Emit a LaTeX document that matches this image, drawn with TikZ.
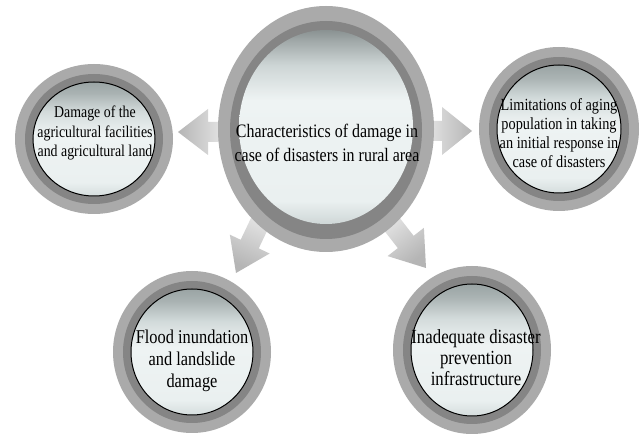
\documentclass[tikz,border=0pt]{standalone}
\usepackage{fontspec}
\setmainfont{Liberation Serif}
\newfontfamily\condserif[FakeStretch=0.84]{Liberation Serif}
\usetikzlibrary{shapes.geometric}
\definecolor{ringlight}{HTML}{AAAAAA}
\definecolor{ringdark}{HTML}{858585}
\definecolor{arrowdark}{HTML}{B5B5B5}
\definecolor{arrowmid}{HTML}{D2D2D2}
\definecolor{arrowlight}{HTML}{F6F6F6}
\definecolor{dA}{HTML}{D5DDDD}
\definecolor{dB}{HTML}{EAF0F0}
\definecolor{dC}{HTML}{EEF3F3}
\definecolor{dD}{HTML}{D3DBDB}
\definecolor{dE}{HTML}{AAB3B3}
\definecolor{dF}{HTML}{9AA4A4}
\definecolor{cA}{HTML}{CFD7D7}
\definecolor{cD}{HTML}{CDD5D5}
\definecolor{cE}{HTML}{A2AAAA}
\definecolor{cF}{HTML}{8A9292}
\pgfdeclareverticalshading{glassdisc}{100bp}{color(0bp)=(dA); color(25bp)=(dA); color(31bp)=(dB); color(52bp)=(dC); color(62bp)=(dD); color(70bp)=(dE); color(75bp)=(dF); color(100bp)=(dF)}
\pgfdeclareverticalshading{glasscentre}{100bp}{color(0bp)=(cA); color(25bp)=(cA); color(31bp)=(dB); color(57bp)=(dC); color(66bp)=(cD); color(72bp)=(cE); color(75bp)=(cF); color(100bp)=(cF)}
\tikzset{
  ringouter/.style 2 args={ellipse, inner sep=0pt, outer sep=0pt, fill=ringlight, minimum width=#1, minimum height=#2},
  ringinner/.style 2 args={ellipse, inner sep=0pt, outer sep=0pt, fill=ringdark, minimum width=#1, minimum height=#2},
  glassface/.style 2 args={ellipse, inner sep=0pt, outer sep=0pt, shade, shading=glassdisc, draw=black, line width=1pt, minimum width=#1, minimum height=#2},
  centreface/.style 2 args={ellipse, inner sep=0pt, outer sep=0pt, shade, shading=glasscentre, minimum width=#1, minimum height=#2},
  balltext/.style={align=center, inner sep=0pt, text=black},
  blockarrow/.style={shade, top color=arrowdark, middle color=arrowmid, bottom color=arrowlight, draw=none},
}
\begin{document}
\begin{tikzpicture}[x=1pt, y=-1pt]
\useasboundingbox (0,0) rectangle (643,435);
\fill[white] (0,0) rectangle (643,435);

% block arrows (behind the circles)
\path[blockarrow, shading angle=90] (178,132) -- (208,109) -- (208,122) -- (240,122) -- (240,142) -- (208,142) -- (208,155) -- cycle;
\path[blockarrow, shading angle=-90] (472,131) -- (442,107) -- (442,121) -- (410,121) -- (410,141) -- (442,141) -- (442,155) -- cycle;
\path[blockarrow, shading angle=154.6] (236,273) -- (229.84,234.66) -- (240.68,239.80) -- (262.12,194.62) -- (280.20,203.20) -- (258.76,248.38) -- (269.60,253.52) -- cycle;
\path[blockarrow, shading angle=-142.1] (426,268) -- (387.59,256.08) -- (397.85,248.10) -- (367.76,209.44) -- (383.54,197.16) -- (413.63,235.82) -- (423.89,227.84) -- cycle;

% centre
\node[ringouter={216pt}{246pt}] (C) at (326,129) {};
\node[ringinner={192pt}{218pt}] (Cr) at (326,130) {};
\node[centreface={174pt}{194pt}] (Cf) at (326,127) {};
\node[balltext, font=\condserif\fontsize{19}{24}\selectfont] (Ct) at (327,143) {Characteristics of damage in\\case of disasters in rural area};

% left
\node[ringouter={158pt}{150pt}] (L) at (94,139) {};
\node[ringinner={138pt}{130pt}] (Lr) at (94,139) {};
\node[glassface={122pt}{114pt}] (Lf) at (94,139) {};
\node[balltext, font=\condserif\fontsize{16.5}{19.5}\selectfont] (Lt) at (95,133) {Damage of the\\agricultural facilities\\and agricultural land};

% right
\node[ringouter={160pt}{164pt}] (R) at (559,129) {};
\node[ringinner={140pt}{144pt}] (Rr) at (559,129) {};
\node[glassface={124pt}{128pt}] (Rf) at (559,129) {};
\node[balltext, font=\condserif\fontsize{17}{19}\selectfont] (Rt) at (559,133) {Limitations of aging\\population in taking\\an initial response in\\case of disasters};

% bottom left
\node[ringouter={158pt}{162pt}] (BL) at (192,352) {};
\node[ringinner={138pt}{142pt}] (BLr) at (192,352) {};
\node[glassface={122pt}{126pt}] (BLf) at (192,352) {};
\node[balltext, font=\condserif\fontsize{19.5}{22}\selectfont] (BLt) at (192,361) {Flood inundation\\and landslide\\damage};

% bottom right
\node[ringouter={158pt}{168pt}] (BR) at (472,350) {};
\node[ringinner={138pt}{148pt}] (BRr) at (472,350) {};
\node[glassface={122pt}{132pt}] (BRf) at (472,350) {};
\node[balltext, font=\condserif\fontsize{20}{21}\selectfont] (BRt) at (476,358) {Inadequate disaster\\prevention\\infrastructure};
\end{tikzpicture}
\end{document}
